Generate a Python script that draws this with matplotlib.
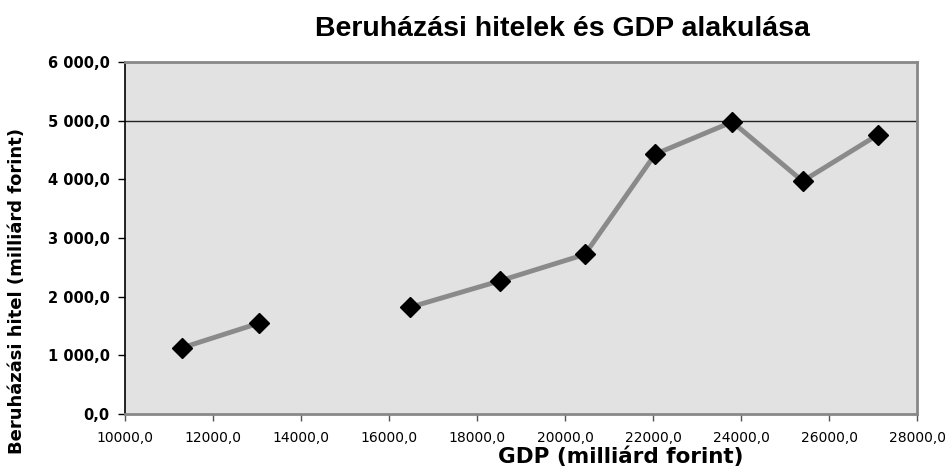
import matplotlib.pyplot as plt
import numpy as np

plt.rcParams['font.family'] = ['DejaVu Sans']

# Data (GDP vs. investment loans, milliárd forint); NaN = missing year -> gap in line
gdp = np.array([11300, 13050, np.nan, 16480, 18520, 20450, 22050, 23800, 25400, 27110])
hitel = np.array([1130, 1550, np.nan, 1820, 2270, 2720, 4430, 4980, 3970, 4760])

x_ticks = np.arange(10000, 28001, 2000)
y_ticks = np.arange(0, 6001, 1000)

def hu(v):
    return f"{v:.1f}".replace(".", ",")

def hu_space(v):
    s = f"{v:.1f}".replace(".", ",")
    if v >= 1000:
        s = s[0] + " " + s[1:]
    return s

fig = plt.figure(figsize=(9.49, 4.70), dpi=100)
ax = fig.add_axes([0.1317, 0.1191, 0.8346, 0.7489])
ax.set_facecolor("#e2e2e2")

ax.plot(gdp, hitel, color="#8a8a8a", linewidth=3.5, zorder=2)
ax.plot(gdp, hitel, linestyle="none", marker="D", markersize=10.5,
        color="black", zorder=3)

ax.axhline(5000, color="#222222", linewidth=1.0, zorder=1)

ax.set_xlim(10000, 28000)
ax.set_ylim(0, 6000)
ax.set_xticks(x_ticks)
ax.set_yticks(y_ticks)
ax.set_xticklabels([hu(v) for v in x_ticks], fontsize=10)
ax.set_yticklabels([hu_space(v) for v in y_ticks], fontsize=10.5, fontweight="bold")

ax.tick_params(axis="y", direction="out", length=5, width=1, color="black", pad=6)
ax.tick_params(axis="x", direction="out", length=5, width=1, color="#555555", pad=7)

ax.spines["left"].set_color("black")
ax.spines["left"].set_linewidth(1.2)
for s in ["top", "right", "bottom"]:
    ax.spines[s].set_color("#888888")
    ax.spines[s].set_linewidth(2)

fig.text(562 / 949, 1 - 36 / 470, "Beruházási hitelek és GDP alakulása",
         fontsize=20.5, fontweight="bold", family="Liberation Sans",
         ha="center", va="baseline")
ax.set_xlabel("GDP (milliárd forint)", fontsize=15.5, fontweight="bold")
ax.xaxis.set_label_coords(0.626, -0.093)
ax.set_ylabel("Beruházási hitel (milliárd forint)", fontsize=13, fontweight="bold")
ax.yaxis.set_label_coords(-0.125, 0.35)

fig.savefig("out.png", dpi=100, facecolor="white")
